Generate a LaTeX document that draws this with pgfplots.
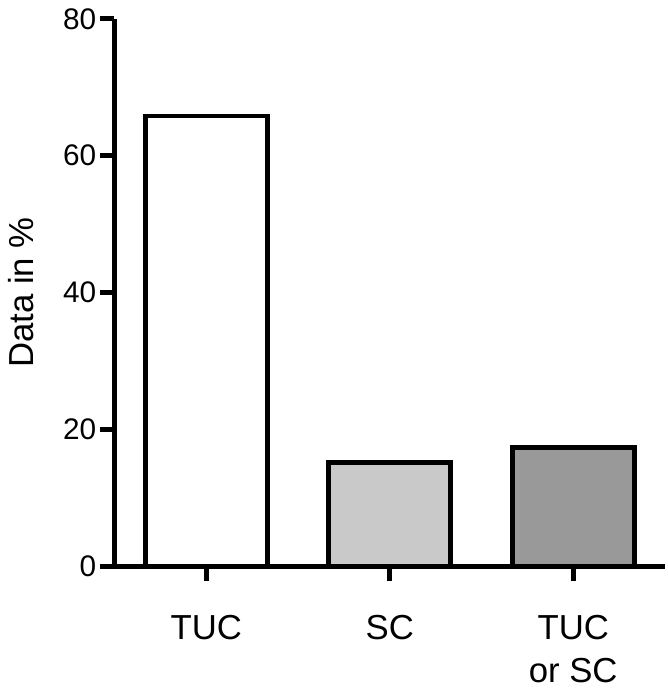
\documentclass[border=0pt]{standalone}
\usepackage{fontspec}
\setmainfont{Liberation Sans}
\usepackage{pgfplots}
\pgfplotsset{compat=1.18}

\begin{document}
\begin{tikzpicture}
  \begin{axis}[
      scale only axis,
      width=222pt, height=220.8pt,
      xmin=-0.5, xmax=2.5,
      ymin=0, ymax=80,
      axis x line*=bottom,
      axis y line*=left,
      axis line style={line width=2pt},
      tick align=outside,
      major tick length=6pt,
      tick style={line width=2pt, black},
      xtick={0,1,2},
      xticklabels={TUC, SC, {TUC\\or SC}},
      xticklabel style={align=center, font=\fontsize{14}{17.5}\selectfont, yshift=-10pt},
      ytick={0,20,40,60,80},
      yticklabel style={font=\fontsize{12}{14}\selectfont, xshift=2.2pt},
      /pgf/number format/assume math mode=true,
      ylabel={Data in \%},
      ylabel style={font=\fontsize{14}{16}\selectfont, yshift=5pt},
      clip=false,
    ]
    % bars: fill colours
    \addplot[ybar, bar width=0.665, bar shift=0pt, fill=white, draw=black, line width=2pt]
      coordinates {(0,65.8)};
    \addplot[ybar, bar width=0.665, bar shift=0pt, fill=black!21, draw=black, line width=2pt]
      coordinates {(1,15.1)};
    \addplot[ybar, bar width=0.665, bar shift=0pt, fill=black!40, draw=black, line width=2pt]
      coordinates {(2,17.4)};
  \end{axis}
\end{tikzpicture}
\end{document}
